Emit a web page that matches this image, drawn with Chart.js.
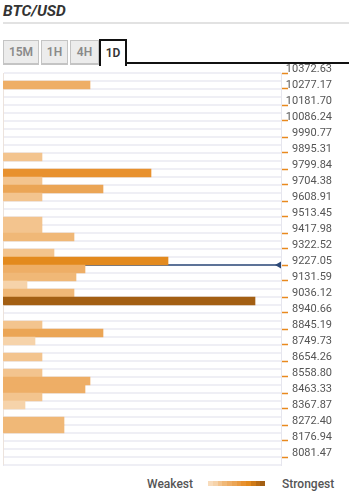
<!DOCTYPE html>
<html>
<head>
<meta charset="utf-8">
<script src="https://cdn.jsdelivr.net/npm/chart.js@4/dist/chart.umd.min.js"></script>
<style>
  body { margin: 0; background: #fff; font-family: Roboto, sans-serif; }
  #page { position: relative; width: 349px; height: 500px; overflow: hidden; }
  .title { position: absolute; left: 3px; top: 2px; font: italic 700 15.5px/18px Roboto, sans-serif; color: #333; }
  .rule { position: absolute; left: 3px; right: 0; top: 22px; height: 2px; background: #e2e2e2; }
  .tab { position: absolute; top: 40px; height: 22px; box-sizing: content-box; border: 1px solid #c4c4c4; border-bottom: 2px solid #c4c4c4;
         background: #ececec; color: #8a8a8a; font: 600 12px/22px Roboto, sans-serif; text-align: center; }
  .tab.active { background: #fff; color: #333; border: 2px solid #111; border-bottom: none; top: 39px; height: 25px; line-height: 24px; }
  .tabline { position: absolute; left: 127px; right: 0; top: 62px; height: 2px; background: #111; }
  #wrap { position: absolute; left: 0; top: 54px; width: 349px; height: 420px; }
  .legend { position: absolute; top: 476px; font: 500 12px/16px Roboto, sans-serif; color: #555; }
  #ramp { position: absolute; left: 208px; top: 481px; height: 5px; display: flex; }
  #ramp div { width: 4.75px; height: 5px; }
</style>
</head>
<body>
<div id="page">
  <div class="title">BTC/USD</div>
  <div class="rule"></div>
  <div class="tab" style="left:3px;width:34px">15M</div>
  <div class="tab" style="left:41px;width:25px">1H</div>
  <div class="tab" style="left:70px;width:27px">4H</div>
  <div class="tab active" style="left:99px;width:24px">1D</div>
  <div class="tabline"></div>
  <div id="wrap"><canvas id="chart"></canvas></div>
  <div class="legend" style="left:147px">Weakest</div>
  <div id="ramp"></div>
  <div class="legend" style="left:282px">Strongest</div>
</div>
<script>
// price buckets (row centres, top to bottom)
const rows = [
  10348.76, 10301.03, 10253.30, 10205.57, 10157.83, 10110.10, 10062.37, 10014.64,
  9966.91, 9919.17, 9871.44, 9823.71, 9775.98, 9728.25, 9680.51, 9632.78,
  9585.05, 9537.32, 9489.59, 9441.85, 9394.12, 9346.39, 9298.66, 9250.93,
  9203.19, 9155.46, 9107.73, 9060.00, 9012.27, 8964.53, 8916.80, 8869.07,
  8821.34, 8773.61, 8725.87, 8678.14, 8630.41, 8582.68, 8534.95, 8487.21,
  8439.48, 8391.75, 8344.02, 8296.29, 8248.55, 8200.82, 8153.09, 8105.36,
  8057.63
];
// confluence strength per bucket
const strength = [
  0, 87, 0, 0, 0, 0, 0, 0,
  0, 0, 39, 0, 148, 39, 100, 39,
  0, 0, 39, 39, 71, 0, 51, 165,
  82, 73, 24, 71, 252, 0, 0, 39,
  100, 32, 0, 39, 0, 39, 87, 82,
  39, 22, 0, 61, 61, 0, 0, 0,
  0
];
const tickLabels = [
  10372.63, 10277.17, 10181.70, 10086.24, 9990.77, 9895.31, 9799.84, 9704.38,
  9608.91, 9513.45, 9417.98, 9322.52, 9227.05, 9131.59, 9036.12, 8940.66,
  8845.19, 8749.73, 8654.26, 8558.80, 8463.33, 8367.87, 8272.40, 8176.94, 8081.47
];
const currentPrice = 9227.05;
const priceTop = 10372.63;
const priceBottom = 8033.74;
const strengthMax = 278;

const ramp = ['#f8dcbc', '#f6d3aa', '#f3c48e', '#f0b877', '#eeae66', '#eba555',
              '#e99b42', '#e8912e', '#e38a1e', '#cf7a18', '#b86b15', '#a35f13'];

const rampEl = document.getElementById('ramp');
ramp.forEach(c => {
  const d = document.createElement('div');
  d.style.background = c;
  rampEl.appendChild(d);
});

function barColor(v) {
  return ramp[Math.min(11, Math.floor((v + 2) / 20))];
}

// current price marker: line under the bars, arrow on top
const priceMarker = {
  id: 'priceMarker',
  beforeDatasetsDraw(chart) {
    const { ctx, chartArea, scales } = chart;
    const y = scales.y2.getPixelForValue(currentPrice);
    ctx.save();
    ctx.strokeStyle = '#2d4a78';
    ctx.lineWidth = 1.5;
    ctx.beginPath();
    ctx.moveTo(chartArea.left, y);
    ctx.lineTo(chartArea.right, y);
    ctx.stroke();
    ctx.restore();
  },
  afterDatasetsDraw(chart) {
    const { ctx, chartArea, scales } = chart;
    const y = scales.y2.getPixelForValue(currentPrice);
    const x = chartArea.right;
    ctx.save();
    ctx.fillStyle = '#2d4a78';
    ctx.beginPath();
    ctx.moveTo(x - 6, y);
    ctx.lineTo(x, y - 3.5);
    ctx.lineTo(x, y + 3.5);
    ctx.closePath();
    ctx.fill();
    ctx.restore();
  }
};

const ctx = document.getElementById('chart').getContext('2d');
new Chart(ctx, {
  type: 'bar',
  data: {
    labels: rows,
    datasets: [{
      label: 'strength',
      data: strength,
      backgroundColor: c => barColor(c.raw),
      borderWidth: 0,
      barThickness: 8,
      barPercentage: 1,
      categoryPercentage: 1
    }]
  },
  options: {
    indexAxis: 'y',
    responsive: true,
    maintainAspectRatio: false,
    animation: false,
    layout: { padding: { top: 19, bottom: 9, left: 3, right: 17 } },
    plugins: { legend: { display: false }, tooltip: { enabled: false } },
    scales: {
      x: { type: 'linear', min: 0, max: strengthMax, display: false },
      y: {
        type: 'category',
        position: 'left',
        offset: true,
        ticks: { display: false },
        grid: { color: '#efeff5', lineWidth: 2, drawTicks: false, offset: true },
        border: { display: true, color: '#e6e6ee', width: 1 },
        afterFit: s => { s.width = 0; s.paddingTop = 0; s.paddingBottom = 0; }
      },
      y2: {
        type: 'linear',
        position: 'right',
        offset: false,
        min: priceBottom,
        max: priceTop,
        afterBuildTicks: s => { s.ticks = tickLabels.map(v => ({ value: v })); },
        afterFit: s => { s.width = 51; s.paddingTop = 0; s.paddingBottom = 0; },
        ticks: {
          callback: v => v.toFixed(2),
          color: '#555',
          font: { family: 'Roboto', size: 11 },
          padding: -2,
          crossAlign: 'far',
          labelOffset: -4,
          autoSkip: false
        },
        grid: { offset: false, drawOnChartArea: false, tickLength: 7, tickColor: '#e8891e', tickWidth: 1.5 },
        border: { display: true, color: '#e6e6ee', width: 1 }
      }
    }
  },
  plugins: [priceMarker]
});
</script>
</body>
</html>
